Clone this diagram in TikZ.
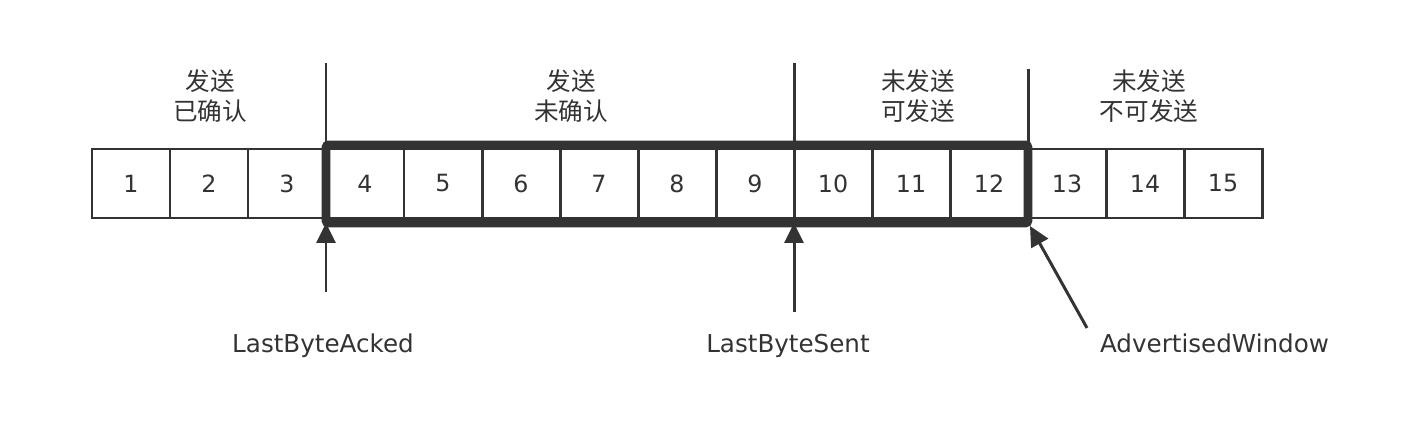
\documentclass[tikz,border=0pt]{standalone}
\usepackage{fontspec}
\setmainfont{DejaVu Sans}
\newfontfamily\cjk{Noto Sans CJK SC}
\usetikzlibrary{arrows.meta}

\begin{document}
\begin{tikzpicture}[line width=1.7pt, draw=black!80, text=black!80,
          cell/.style={draw, minimum width=1.56cm, minimum height=1.38cm,
            inner sep=0pt, outer sep=0pt, font=\fontsize{13.5}{16}\selectfont},
          window/.style={line width=5pt, rounded corners=1.5pt},
          state/.style={align=center, font=\cjk\fontsize{14}{17}\selectfont},
          pointer/.style={-{Triangle[length=0.4cm, width=0.38cm]}},
          ptrlabel/.style={anchor=base, font=\fontsize{14}{17}\selectfont},
        ]
          \useasboundingbox (0,0) rectangle (28.52,-8.96);
          % byte cells
          \node[cell] (c1)  at ( 2.62, -3.67) {1};
          \node[cell] (c2)  at ( 4.18, -3.67) {2};
          \node[cell] (c3)  at ( 5.74, -3.67) {3};
          \node[cell] (c4)  at ( 7.30, -3.67) {4};
          \node[cell] (c5)  at ( 8.86, -3.67) {5};
          \node[cell] (c6)  at (10.42, -3.67) {6};
          \node[cell] (c7)  at (11.98, -3.67) {7};
          \node[cell] (c8)  at (13.54, -3.67) {8};
          \node[cell] (c9)  at (15.10, -3.67) {9};
          \node[cell] (c10) at (16.66, -3.67) {10};
          \node[cell] (c11) at (18.22, -3.67) {11};
          \node[cell] (c12) at (19.78, -3.67) {12};
          \node[cell] (c13) at (21.34, -3.67) {13};
          \node[cell] (c14) at (22.90, -3.67) {14};
          \node[cell] (c15) at (24.46, -3.67) {15};
          % sliding window
          \coordinate (wtl) at ([yshift=0.08cm]c4.north west);
          \coordinate (wbr) at ([yshift=-0.10cm]c12.south east);
          \coordinate (wbl) at (wtl |- wbr);
          \coordinate (wtr) at (wbr |- wtl);
          \coordinate (wmt) at (c10.north west |- wtl);
          \coordinate (wmb) at (c10.north west |- wbr);
          \draw[window] (wtl) rectangle (wbr);
          % dividers
          \coordinate (d1) at (wtl |- 0,-1.26);
          \coordinate (d2) at (wmt |- 0,-1.26);
          \coordinate (d3) at (wtr |- 0,-1.38);
          \draw (wtl) -- (d1);
          \draw (wmt) -- (d2);
          \draw (wtr) -- (d3);
          \node[state] (s1) at ( 4.20, -1.93) {发送\\已确认};
          \node[state] (s2) at (11.42, -1.93) {发送\\未确认};
          \node[state] (s3) at (18.36, -1.93) {未发送\\可发送};
          \node[state] (s4) at (22.98, -1.93) {未发送\\不可发送};
          % pointers
          \coordinate (p1) at (wbl |- 0,-5.84);
          \coordinate (p2) at (wmb |- 0,-6.24);
          \coordinate (p3) at (21.74, -6.56);
          \draw[pointer] (p1) -- (wbl);
          \draw[pointer] (p2) -- (wmb);
          \draw[pointer] (p3) -- ([shift={(0.04,-0.06)}]wbr);
          \node[ptrlabel] (acked)  at ( 6.46, -7.06) {LastByteAcked};
          \node[ptrlabel] (sent)   at (15.76, -7.06) {LastByteSent};
          \node[ptrlabel] (advwin) at (24.29, -7.06) {AdvertisedWindow};
        \end{tikzpicture}
\end{document}
